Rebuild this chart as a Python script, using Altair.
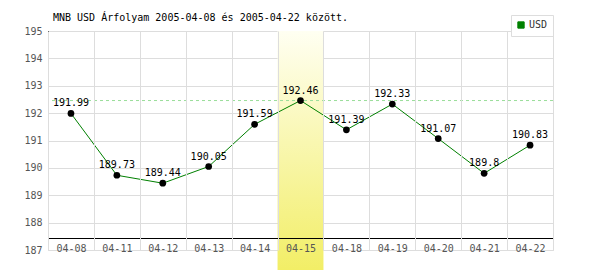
import altair as alt
import pandas as pd

dates = ["04-08", "04-11", "04-12", "04-13", "04-14", "04-15",
         "04-18", "04-19", "04-20", "04-21", "04-22"]
values = [191.99, 189.73, 189.44, 190.05, 191.59, 192.46,
          191.39, 192.33, 191.07, 189.8, 190.83]
series = "USD"
highlight_dates = ["04-15"]
y_ticks = [187, 188, 189, 190, 191, 192, 193, 194, 195]
title_text = "MNB USD Árfolyam 2005-04-08 és 2005-04-22 között."

df = pd.DataFrame({"date": dates, "value": values, "series": series})
hl = pd.DataFrame({"date": highlight_dates})

FONT = "DejaVu Sans Mono"

x_axis = alt.Axis(title=None, domain=False, ticks=False, grid=True,
                  tickBand="extent", gridColor="#dddddd",
                  labelAngle=0, labelFont=FONT, labelFontSize=10,
                  labelColor="#555555", labelPadding=-7)
y_axis = alt.Axis(title=None, values=y_ticks, domain=False, ticks=False, grid=True,
                  gridColor="#dddddd", labelFont=FONT, labelFontSize=10,
                  labelColor="#555555", labelPadding=6, format="d", labelOverlap=False)
x_scale = alt.Scale(domain=dates, paddingInner=0, paddingOuter=0)
y_scale = alt.Scale(domain=[187, 195], nice=False, zero=False)

xs = alt.X("date:N", sort=dates, scale=x_scale, axis=x_axis)
ys = alt.Y("value:Q", scale=y_scale, axis=y_axis)

base = alt.Chart(df)

highlight = alt.Chart(hl).mark_rect(
    fill=alt.Gradient(gradient="linear", x1=0, x2=0, y1=0, y2=1,
                      stops=[alt.GradientStop(offset=0, color="#fffff2"),
                             alt.GradientStop(offset=1, color="#f2ee66")])
).encode(x=xs, y=alt.value(0), y2=alt.value(239))

maxline = base.mark_rule(color="#99dd99", strokeDash=[3, 3], strokeWidth=1).encode(
    y=alt.Y("max(value):Q", scale=y_scale, axis=y_axis))

line = base.mark_line(strokeWidth=1).encode(
    x=xs, y=ys,
    color=alt.Color("series:N", scale=alt.Scale(range=["#008000"]),
                    legend=alt.Legend(title=None, orient="none", legendX=463, legendY=-16,
                                      symbolType="square", symbolSize=40,
                                      symbolFillColor="#008000", symbolStrokeColor="#666666",
                                      symbolStrokeWidth=1, labelFont=FONT, labelFontSize=10,
                                      labelColor="#333333", padding=5, fillColor="white",
                                      strokeColor="#dddddd", labelOffset=3)))

points = base.mark_circle(size=45, color="black", opacity=1).encode(x=xs, y=ys)

labels = base.mark_text(dy=-10, font=FONT, fontSize=10, color="black").encode(
    x=xs, y=ys, text=alt.Text("value:Q"))

xaxis_line = base.mark_rule(color="black", strokeWidth=1).encode(
    x=alt.value(0), x2=alt.value(505), y=alt.value(207.5))
yaxis_line = base.mark_rule(color="black", strokeWidth=1).encode(
    x=alt.value(0.5), y=alt.value(0), y2=alt.value(207.5))

chart = alt.layer(highlight, maxline, line, points, labels, xaxis_line, yaxis_line).properties(
    width=505, height=219,
    title=alt.TitleParams(title_text, anchor="start", frame="group", font=FONT,
                          fontSize=10, fontWeight="normal", color="black", offset=-8, dx=5),
    autosize=alt.AutoSizeParams(type="none"),
    padding={"left": 48, "top": 31, "right": 47, "bottom": 20},
).configure_view(stroke=None).configure(background="white")

chart.save("out.html", embed_options={"renderer": "svg", "actions": False})
